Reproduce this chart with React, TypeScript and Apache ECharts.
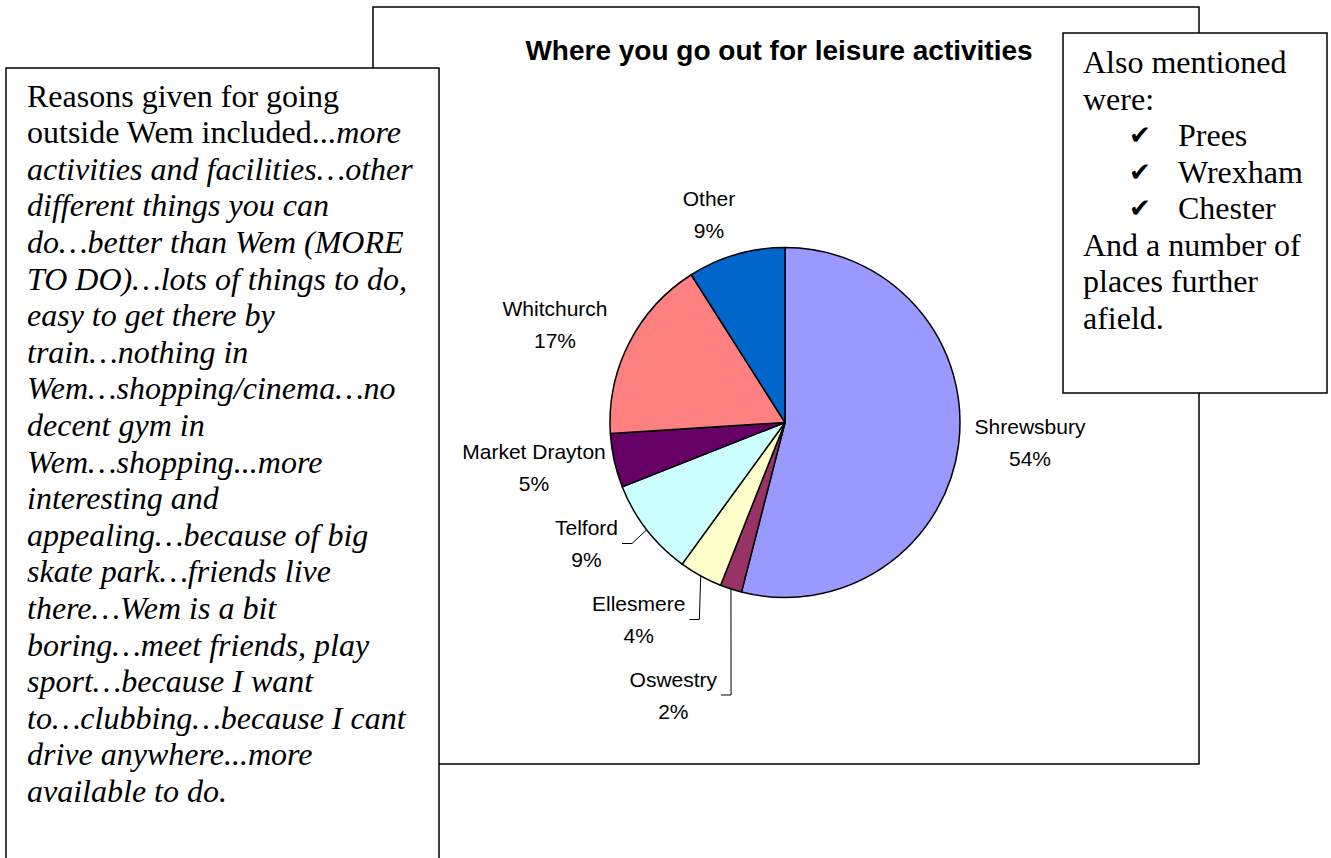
import React, { useEffect, useRef } from "react";
import * as echarts from "echarts";

// ---------------- data ----------------
const TITLE = "Where you go out for leisure activities";
const PLACES = ["Shrewsbury", "Oswestry", "Ellesmere", "Telford", "Market Drayton", "Whitchurch", "Other"];
const SHARES = [54, 2, 4, 9, 5, 17, 9];
const ALSO_MENTIONED = ["Prees", "Wrexham", "Chester"];
const ALSO_INTRO = ["Also mentioned", "were:"];
const ALSO_OUTRO = ["And a number of", "places further", "afield."];
// each line: list of [style, text] segments (n = upright, i = italic)
const REASON_LINES: [string, string][][] = [
  [["n", "Reasons given for going"]],
  [["n", "outside Wem included..."], ["i", "more"]],
  [["i", "activities and facilities…other"]],
  [["i", "different things you can"]],
  [["i", "do…better than Wem (MORE"]],
  [["i", "TO DO)…lots of things to do,"]],
  [["i", "easy to get there by"]],
  [["i", "train…nothing in"]],
  [["i", "Wem…shopping/cinema…no"]],
  [["i", "decent gym in"]],
  [["i", "Wem…shopping...more"]],
  [["i", "interesting and"]],
  [["i", "appealing…because of big"]],
  [["i", "skate park…friends live"]],
  [["i", "there…Wem is a bit"]],
  [["i", "boring…meet friends, play"]],
  [["i", "sport…because I want"]],
  [["i", "to…clubbing…because I cant"]],
  [["i", "drive anywhere...more"]],
  [["i", "available to do."]],
];

// ---------------- styles / layout ----------------
const SLICE_COLORS = ["#9999FF", "#993366", "#FFFFCC", "#CCFFFF", "#660066", "#FF8080", "#0066CC"];
const FONT_SANS = "'Liberation Sans', Arial, sans-serif";
const FONT_SERIF = "'Liberation Serif', 'Times New Roman', serif";
const PIE_CENTER: [number, number] = [785, 422.5];
const PIE_RADIUS = 175;
// label block centres, relative to the pie centre
const LABEL_OFFSETS: Record<string, [number, number]> = {
  Shrewsbury: [245, 20],
  Oswestry: [-111.7, 272.5],
  Ellesmere: [-146.3, 197],
  Telford: [-198.5, 121],
  "Market Drayton": [-251, 45],
  Whitchurch: [-230, -98],
  Other: [-76, -208],
};
const LEADER_LINES = new Set(["Oswestry", "Ellesmere", "Telford"]);

const SERIF_SIZE = 32;
const SERIF_LINE = 36.6;

export default function App() {
  const ref = useRef<HTMLDivElement>(null);

  useEffect(() => {
    if (!ref.current) return;
    const chart = echarts.init(ref.current, undefined, { renderer: "svg" });
    const total = SHARES.reduce((a, b) => a + b, 0);

    const edgePoint = (idx: number): [number, number] => {
      let cum = 0;
      for (let k = 0; k < idx; k++) cum += SHARES[k];
      const frac = (cum + SHARES[idx] / 2) / total;
      const th = frac * Math.PI * 2;
      return [PIE_CENTER[0] + PIE_RADIUS * Math.sin(th), PIE_CENTER[1] - PIE_RADIUS * Math.cos(th)];
    };

    const data = PLACES.map((name, i) => ({
      name,
      value: SHARES[i],
      itemStyle: { color: SLICE_COLORS[i] },
      labelLine: { show: LEADER_LINES.has(name), length: 10, length2: 10 },
    }));

    const reasonsText = REASON_LINES.map((segs) => segs.map(([s, t]) => `{${s}|${t}}`).join("")).join("\n");

    const rightX = 1083;
    const rightY0 = 62.3;
    const rightTexts: any[] = [];
    const addRight = (k: number, x: number, text: string, extra: any = {}) =>
      rightTexts.push({
        type: "text",
        z: 30,
        x,
        y: rightY0 + k * 36.5,
        style: {
          text,
          fontFamily: FONT_SERIF,
          fontSize: SERIF_SIZE,
          fill: "#000",
          verticalAlign: "middle",
          align: "left",
          ...extra,
        },
      });
    ALSO_INTRO.forEach((t, k) => addRight(k, rightX, t));
    ALSO_MENTIONED.forEach((t, k) => {
      addRight(k + 2, 1129, "✔", { fontFamily: "'DejaVu Sans', sans-serif", fontSize: 26 });
      addRight(k + 2, 1178, t);
    });
    ALSO_OUTRO.forEach((t, k) => addRight(k + 5, rightX, t));

    chart.setOption({
      animation: false,
      backgroundColor: "#ffffff",
      graphic: [
        {
          type: "rect",
          z: 0,
          shape: { x: 373, y: 7, width: 826, height: 757 },
          style: { fill: "#fff", stroke: "#000", lineWidth: 1.5 },
        },
        {
          type: "text",
          z: 5,
          x: 779,
          y: 50,
          style: {
            text: TITLE,
            fontFamily: FONT_SANS,
            fontWeight: "bold",
            fontSize: 28,
            fill: "#000",
            align: "center",
            verticalAlign: "middle",
          },
        },
        {
          type: "rect",
          z: 20,
          shape: { x: 6, y: 68, width: 433, height: 820 },
          style: { fill: "#fff", stroke: "#000", lineWidth: 1.5 },
        },
        {
          type: "text",
          z: 30,
          x: 27,
          y: 77.3,
          style: {
            text: reasonsText,
            fill: "#000",
            align: "left",
            verticalAlign: "top",
            lineHeight: SERIF_LINE,
            rich: {
              n: { fontFamily: FONT_SERIF, fontSize: SERIF_SIZE, fontStyle: "normal", lineHeight: SERIF_LINE, fill: "#000" },
              i: { fontFamily: FONT_SERIF, fontSize: SERIF_SIZE, fontStyle: "italic", lineHeight: SERIF_LINE, fill: "#000" },
            },
          },
        },
        {
          type: "rect",
          z: 20,
          shape: { x: 1063, y: 33, width: 264, height: 360 },
          style: { fill: "#fff", stroke: "#000", lineWidth: 1.5 },
        },
        ...rightTexts,
      ],
      series: [
        {
          type: "pie",
          z: 2,
          center: PIE_CENTER,
          radius: PIE_RADIUS,
          startAngle: 90,
          clockwise: true,
          avoidLabelOverlap: false,
          percentPrecision: 0,
          data,
          itemStyle: { borderColor: "#000", borderWidth: 1.5 },
          emphasis: { disabled: true },
          label: {
            show: true,
            position: "outside",
            formatter: "{b}\n{d}%",
            fontFamily: FONT_SANS,
            fontSize: 21,
            lineHeight: 32,
            color: "#000",
          },
          labelLine: { lineStyle: { color: "#000", width: 1 } },
          labelLayout: (params: any) => {
            const name = PLACES[params.dataIndex];
            const off = LABEL_OFFSETS[name];
            const x = PIE_CENTER[0] + off[0];
            const y = PIE_CENTER[1] + off[1];
            const res: any = { x, y, align: "center", verticalAlign: "middle" };
            if (LEADER_LINES.has(name)) {
              const start = edgePoint(params.dataIndex);
              const endX = x + params.labelRect.width / 2 + 4;
              res.labelLinePoints = [start, [endX + 10, y], [endX, y]];
            }
            return res;
          },
        },
      ],
    });
    return () => chart.dispose();
  }, []);

  return (
    <div
      ref={ref}
      style={{ position: "fixed", left: 0, top: 0, width: 1331, height: 858, background: "#fff" }}
    />
  );
}
